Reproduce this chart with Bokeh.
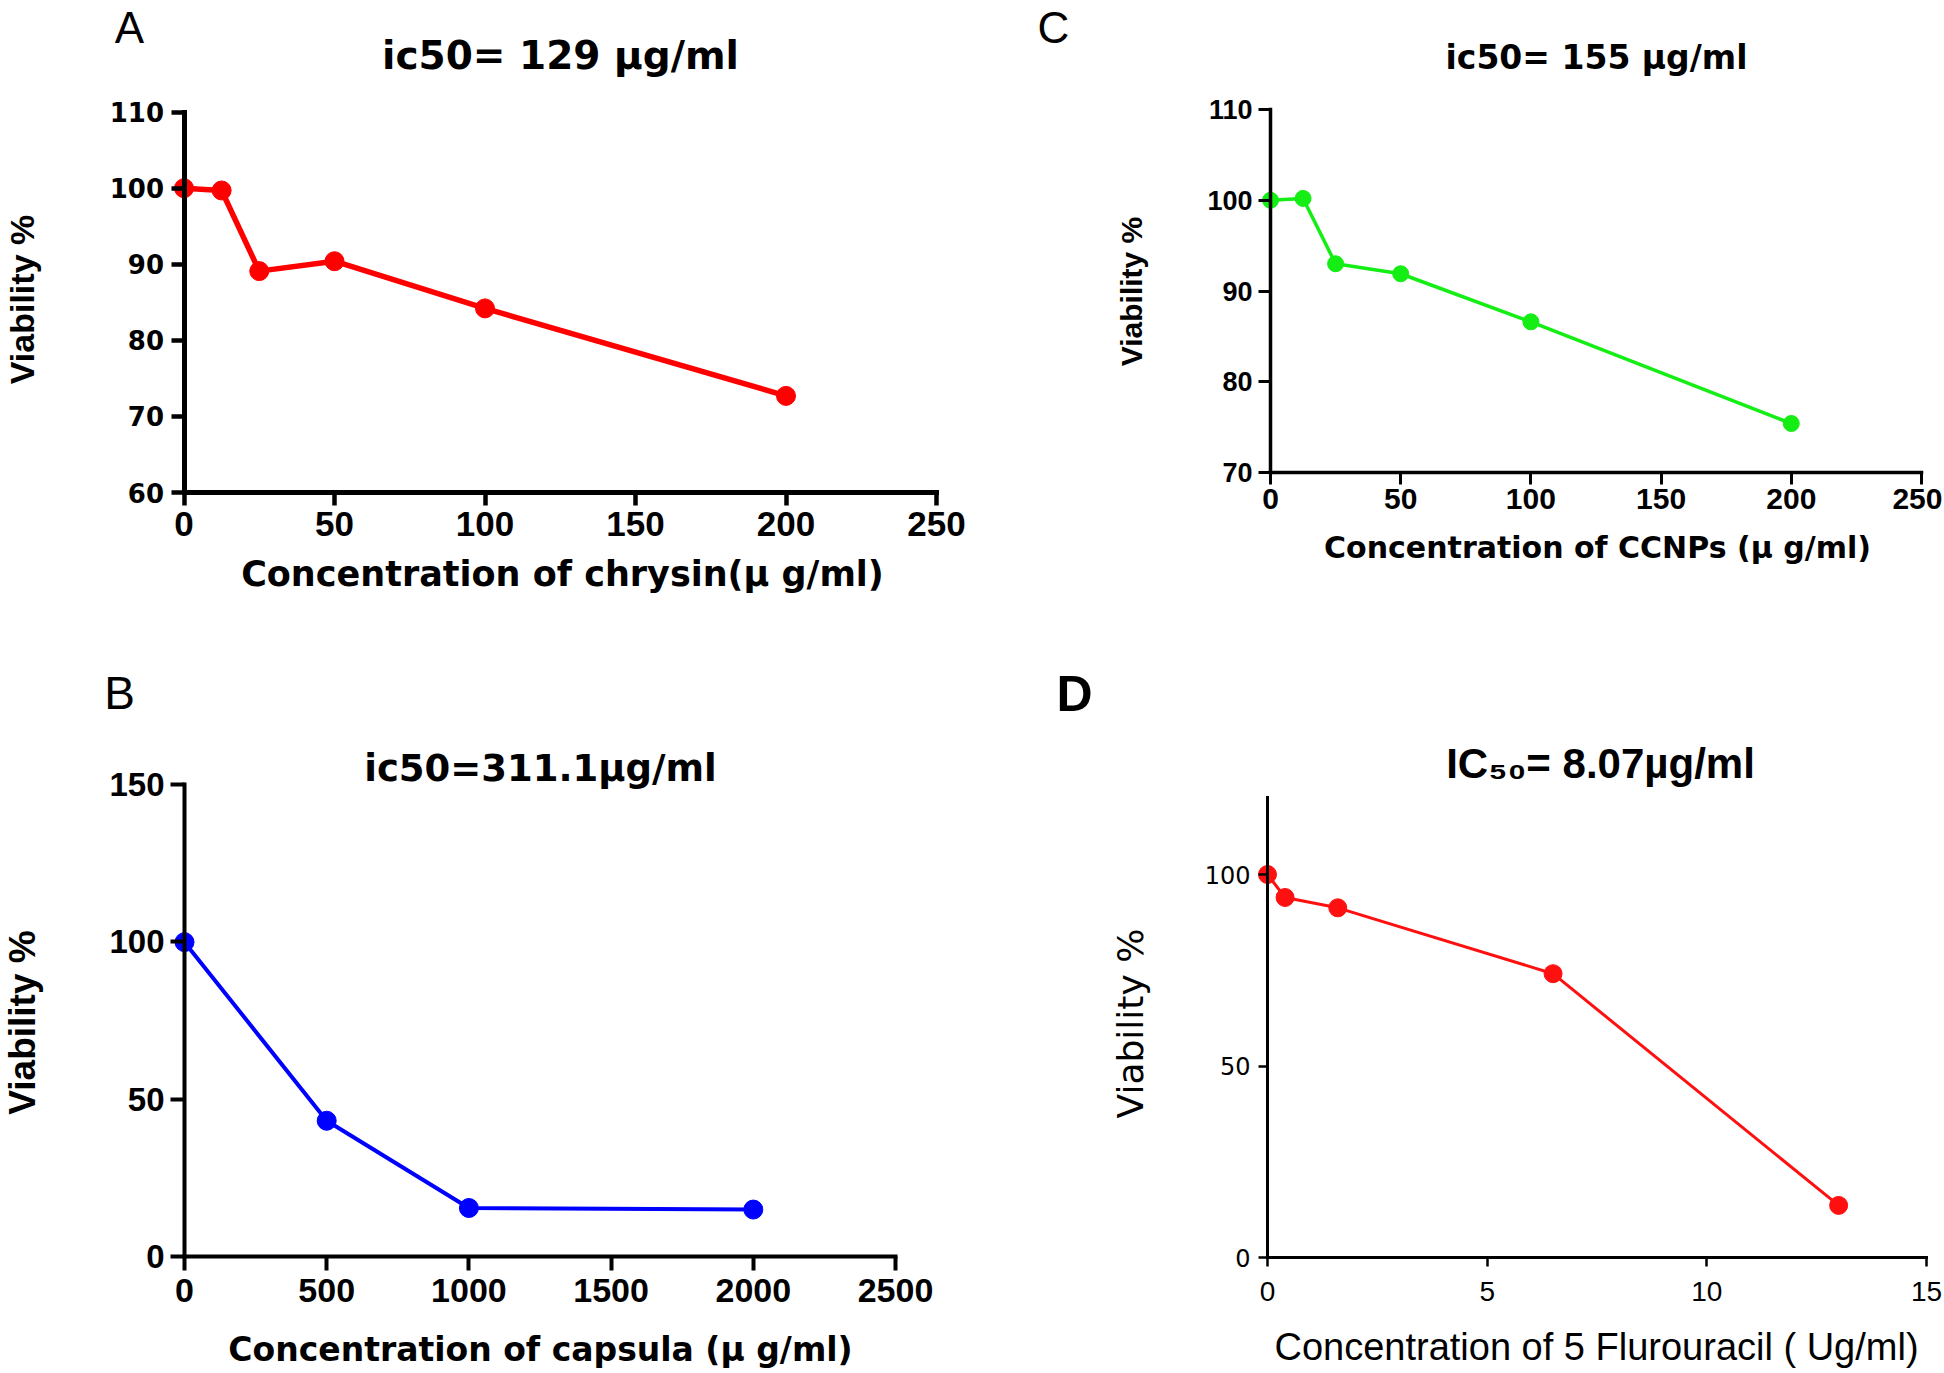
import math
from bokeh.plotting import figure
from bokeh.models import Range1d, FixedTicker, Label
from bokeh.layouts import column, row
from bokeh.embed import file_html
from bokeh.resources import INLINE

# ---------------- data ----------------
chrysin_conc = [0, 12.5, 25, 50, 100, 200]
chrysin_viability = [100, 99.7, 89.1, 90.4, 84.2, 72.7]

ccnps_conc = [0, 12.5, 25, 50, 100, 200]
ccnps_viability = [100, 100.2, 93.0, 91.9, 86.6, 75.4]

capsula_conc = [0, 500, 1000, 2000]
capsula_viability = [99.8, 43.1, 15.4, 14.9]

fu_conc = [0, 0.4, 1.6, 6.5, 13]
fu_viability = [100, 94.0, 91.3, 74.1, 13.6]

a_xticks = [0, 50, 100, 150, 200, 250]
a_yticks = [60, 70, 80, 90, 100, 110]
c_xticks = [0, 50, 100, 150, 200, 250]
c_yticks = [70, 80, 90, 100, 110]
b_xticks = [0, 500, 1000, 1500, 2000, 2500]
b_yticks = [0, 50, 100, 150]
d_xticks = [0, 5, 10, 15]
d_yticks = [0, 50, 100]

DJB = "DejaVu Sans"
LIB = "Liberation Sans"
NARROW = "Liberation Sans Narrow, Liberation Sans"


def panel(box, xlim, xpx, ylim, ypx, xticks, yticks, xs, ys, color,
          line_w, marker_size, axis_w, tick_w, tick_len,
          xtick_font, ytick_font, xstand, ystand, texts, y_top=None):
    # box: page-pixel box of the whole figure; xpx/ypx: page pixels of the axis ends
    L, T, W, H = box
    sx = (xpx[1] - xpx[0]) / (xlim[1] - xlim[0])
    sy = (ypx[0] - ypx[1]) / (ylim[1] - ylim[0])
    ytop_val = ylim[1] if y_top is None else y_top
    x0 = xlim[0] - (xpx[0] - L) / sx
    x1 = xlim[0] + (L + W - xpx[0]) / sx
    y0 = ylim[0] - (T + H - ypx[0]) / sy
    y1 = ylim[0] + (ypx[0] - T) / sy

    p = figure(width=W, height=H, x_range=Range1d(x0, x1), y_range=Range1d(y0, y1),
               output_backend="svg", toolbar_location=None, min_border=0)
    p.grid.visible = False
    p.outline_line_color = None
    p.background_fill_color = "white"
    p.border_fill_color = "white"

    p.line(xs, ys, line_color=color, line_width=line_w)
    p.scatter(xs, ys, size=marker_size, fill_color=color, line_color=color)

    for ax, ticks, font, stand, bnds, loc in (
        (p.xaxis[0], xticks, xtick_font, xstand, (xlim[0], xlim[1]), ylim[0]),
        (p.yaxis[0], yticks, ytick_font, ystand, (ylim[0], ytop_val), xlim[0]),
    ):
        ax.ticker = FixedTicker(ticks=ticks)
        ax.bounds = bnds
        ax.fixed_location = loc
        ax.axis_line_width = axis_w
        ax.axis_line_color = "black"
        ax.axis_line_cap = "square"
        ax.major_tick_line_width = tick_w
        ax.major_tick_line_color = "black"
        ax.major_tick_out = tick_len
        ax.major_tick_in = 0
        ax.minor_tick_line_color = None
        ax.major_label_text_font = font[0]
        ax.major_label_text_font_size = font[1]
        ax.major_label_text_font_style = font[2]
        ax.major_label_text_color = "black"
        ax.major_label_standoff = stand

    for (txt, px, py, font, size, style, rot) in texts:
        p.add_layout(Label(x=xlim[0] + (px - xpx[0]) / sx, y=ylim[0] + (ypx[0] - py) / sy,
                           text=txt, text_font=font, text_font_size=size,
                           text_font_style=style, text_color="black",
                           text_align="center", text_baseline="middle",
                           angle=(math.pi / 2 if rot else 0)))
    return p


pA = panel((0, 0, 990, 640), (0, 250), (183.5, 936), (60, 110), (492, 111.6),
           a_xticks, a_yticks, chrysin_conc, chrysin_viability, "#ff0000",
           5.5, 19, 5, 4.5, 13,
           (LIB, "35px", "bold"), (DJB, "26px", "bold"), 6, 7,
           [("A", 129, 27, NARROW, "44px", "normal", False),
            ("ic50= 129 \u00b5g/ml", 560, 55, DJB, "39px", "bold", False),
            ("Viability %", 21, 299, LIB, "34px", "bold", True),
            ("Concentration of chrysin(\u00b5 g/ml)", 562, 573, DJB, "35px", "bold", False)])

pC = panel((990, 0, 952, 640), (0, 250), (1270, 1921), (70, 110), (472, 109),
           c_xticks, c_yticks, ccnps_conc, ccnps_viability, "#14ee14",
           3.5, 16, 3.5, 3, 12,
           (LIB, "30px", "bold"), (LIB, "27px", "bold"), 4, 6,
           [("C", 1053, 27, NARROW, "44px", "normal", False),
            ("ic50= 155 \u00b5g/ml", 1596, 57, DJB, "33px", "bold", False),
            ("Viability %", 1131, 291, LIB, "30px", "bold", True),
            ("Concentration of CCNPs (\u00b5 g/ml)", 1597, 547, DJB, "30px", "bold", False)])

pB = panel((0, 640, 990, 731), (0, 2500), (184, 895), (0, 150), (1256, 783.5),
           b_xticks, b_yticks, capsula_conc, capsula_viability, "#0000ff",
           4, 19, 4, 4, 14,
           (LIB, "34px", "bold"), (LIB, "33px", "bold"), 8, 6,
           [("B", 119, 692, NARROW, "46px", "normal", False),
            ("ic50=311.1\u00b5g/ml", 540, 768, DJB, "37px", "bold", False),
            ("Viability %", 22, 1022, LIB, "37px", "bold", True),
            ("Concentration of capsula (\u00b5 g/ml)", 540, 1349, DJB, "33px", "bold", False)])

pD = panel((990, 640, 952, 731), (0, 15), (1267, 1926), (0, 100), (1257, 874),
           d_xticks, d_yticks, fu_conc, fu_viability, "#ff1010",
           3, 18, 3, 2.5, 9,
           (LIB, "28px", "normal"), (DJB, "24px", "normal"), 15, 8,
           [("D", 1074, 693, LIB, "50px", "bold", False),
            ("IC\u2085\u2080= 8.07\u00b5g/ml", 1600, 763, LIB, "42px", "bold", False),
            ("Viability %", 1130, 1023, DJB, "36px", "normal", True),
            ("Concentration of 5 Flurouracil ( Ug/ml)", 1596, 1346, LIB, "38px", "normal", False)],
           y_top=120)

layout = column(row(pA, pC), row(pB, pD))
open("out.html", "w").write(file_html(layout, INLINE))
